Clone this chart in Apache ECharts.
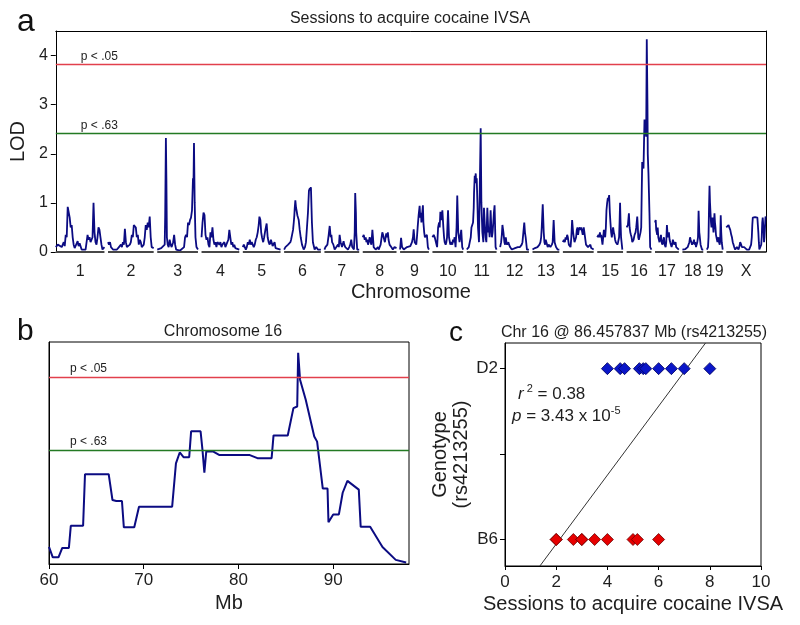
<!DOCTYPE html>
<html><head><meta charset="utf-8">
<script src="https://cdn.jsdelivr.net/npm/echarts@6/dist/echarts.min.js"></script>
<style>html,body{margin:0;padding:0;background:#fff}#c{width:800px;height:625px}</style>
</head><body><div id="c"></div>
<script>
// ---------------- Panel a data ----------------
const chromNames = ['1','2','3','4','5','6','7','8','9','10','11','12','13','14','15','16','17','18','19','X'];
const chromLengths = [49,46,41,38,38,37,35,34,29,31,30,29,27,31,26,25,24,21,16,40];
const chromGap = 3.6;
const lodTicks = [0,1,2,3,4];
const thrSig = 3.82, thrSigLabel = 'p < .05';
const thrSug = 2.41, thrSugLabel = 'p < .63';

const lodChr1 = [[0,0.1],[2,0.15],[4,0.12],[6,0.1],[8,0.2],[9,0.12],[10,0.35],[11,0.3],[12,0.92],[13,0.88],[14,0.7],[15,0.5],[16,0.55],[17,0.3],[18,0.15],[19,0.08],[21,0.1],[22,0.22],[23,0.12],[24,0.18],[25,0.22],[26,0.05],[28,0.04],[30,0.05],[32,0.35],[33,0.25],[34,0.3],[35,0.2],[36,0.25],[37,0.3],[38,1.0],[39,0.4],[40,0.2],[41,0.15],[42,0.3],[43,0.5],[44,0.45],[45,0.3],[46,0.15],[47,0.05],[49,0.1]];
const lodChr2 = [[0,0.2],[1,0.15],[2,0.2],[3,0.1],[4,0.12],[5,0.05],[7,0.08],[9,0.05],[11,0.1],[12,0.08],[13,0.15],[14,0.1],[15,0.2],[16,0.15],[17,0.47],[18,0.2],[19,0.1],[20,0.12],[21,0.08],[22,0.15],[23,0.2],[24,0.35],[25,0.3],[26,0.55],[27,0.52],[28,0.5],[29,0.3],[30,0.35],[31,0.15],[32,0.25],[33,0.2],[34,0.1],[35,0.08],[36,0.15],[37,0.3],[38,0.55],[39,0.45],[40,0.6],[41,0.5],[42,0.72],[43,0.3],[44,0.1],[46,0.08]];
const lodChr3 = [[0,0.05],[2,0.05],[4,0.08],[6,0.1],[7.5,0.15],[8,0.75],[8.7,2.32],[9.2,1.5],[9.7,0.3],[10.5,0.15],[11.5,0.1],[12.5,0.25],[13.5,0.15],[14.5,0.1],[16,0.2],[17,0.35],[18,0.15],[19,0.05],[21,0.05],[23,0.03],[25,0.05],[27,0.1],[28,0.3],[29,0.35],[30,0.3],[31,0.6],[32,0.55],[33,0.65],[34,0.7],[35,0.85],[36,1.5],[36.5,1.4],[37,2.22],[37.7,1.0],[38.5,0.3],[39.5,0.1],[41,0.05]];
const lodChr4 = [[0,0.3],[1,0.6],[2,0.8],[3,0.75],[4,0.35],[5,0.25],[6,0.3],[7,0.15],[8,0.1],[9,0.4],[10,0.3],[11,0.5],[12,0.25],[13,0.15],[14,0.2],[15,0.1],[16,0.2],[17,0.22],[18,0.15],[19,0.2],[20,0.1],[21,0.15],[22,0.12],[23,0.2],[24,0.1],[25,0.15],[26,0.2],[27,0.25],[28,0.45],[29,0.3],[30,0.15],[31,0.2],[32,0.1],[33,0.15],[34,0.08],[35,0.12],[36,0.1],[38,0.05]];
const lodChr5 = [[0,0.1],[1,0.15],[2,0.1],[3,0.05],[4,0.1],[5,0.2],[6,0.15],[7,0.25],[8,0.15],[9,0.2],[10,0.2],[11,0.1],[12,0.15],[13,0.25],[14,0.3],[15,0.4],[16,0.55],[16.7,0.72],[17.7,0.65],[18.5,0.4],[19.3,0.3],[20.5,0.2],[21.5,0.3],[22.7,0.45],[24,0.58],[25,0.3],[26,0.2],[27,0.15],[28.3,0.25],[29,0.2],[30,0.12],[31,0.15],[32,0.2],[33,0.08],[34,0.1],[35,0.05],[38,0.05]];
const lodChr6 = [[0,0.05],[1.3,0.1],[3,0.12],[4,0.15],[5,0.12],[6.3,0.2],[7,0.25],[8,0.35],[9,0.45],[9.7,0.6],[10.3,0.75],[10.7,0.9],[11.3,1.05],[12,0.9],[12.5,0.85],[13.3,0.75],[14,0.7],[14.7,0.65],[15.7,0.45],[16.7,0.3],[18,0.15],[19.7,0.05],[21,0.1],[22,0.2],[23,0.5],[24,0.8],[25,1.25],[26,1.3],[26.5,1.25],[27,1.32],[28,0.6],[29,0.2],[30.7,0.05],[32.3,0.1],[34,0.05],[37,0.05]];
const lodChr7 = [[0,0.05],[1,0.1],[2,0.12],[3,0.15],[4.3,0.35],[5.3,0.53],[6.3,0.3],[7,0.35],[7.7,0.2],[9,0.15],[10.3,0.05],[12,0.1],[13,0.12],[13.7,0.15],[14.5,0.1],[15.3,0.35],[16.3,0.2],[17.7,0.1],[18.5,0.12],[19.3,0.22],[20,0.15],[21,0.1],[22,0.08],[23.7,0.05],[25,0.1],[26,0.15],[27,0.25],[28,0.1],[29.7,0.05],[30.5,0.4],[31,1.2],[31.7,0.8],[32,0.4],[33,0.05],[35,0.05]];
const lodChr8 = [[0,0.3],[1,0.35],[2,0.25],[3,0.3],[3.7,0.2],[4.5,0.25],[5.3,0.15],[6,0.2],[7,0.3],[8,0.2],[8.7,0.15],[9.7,0.45],[10.3,0.3],[11,0.1],[12,0.08],[13,0.05],[14,0.08],[15.3,0.1],[16,0.05],[17,0.1],[18,0.15],[19,0.3],[19.7,0.4],[20.5,0.35],[21,0.3],[22.3,0.2],[23,0.3],[23.7,0.38],[24.5,0.3],[25.3,0.4],[26,0.25],[27,0.15],[28,0.12],[28.7,0.1],[30.3,0.05],[32,0.1],[34,0.08]];
const lodChr9 = [[0,0.05],[1,0.29],[2,0.1],[3,0.08],[3.7,0.05],[5,0.08],[7,0.1],[8.5,0.08],[10.3,0.12],[11,0.15],[12,0.2],[13,0.3],[13.7,0.46],[14.7,0.2],[16.3,0.15],[17,0.3],[17.7,0.5],[18.7,0.75],[19.7,0.94],[20.3,0.7],[21,0.8],[21.5,0.6],[22,0.6],[23,0.95],[23.5,0.6],[24.3,0.4],[25,0.3],[25.7,0.3],[27,0.35],[28,0.1],[29,0.05]];
const lodChr10 = [[0,0.3],[1.3,0.35],[2.3,0.3],[3.3,0.3],[4.7,0.1],[5.2,0.3],[5.7,0.5],[6.7,0.6],[7.3,0.5],[8,0.82],[8.5,0.7],[9,0.65],[10,0.85],[11,0.5],[11.7,0.3],[12.3,0.2],[13.3,0.15],[14,0.2],[14.7,0.3],[15.7,0.85],[16.7,0.3],[18,0.15],[19.3,0.2],[20,0.15],[20.7,0.25],[21.5,0.2],[22.3,0.3],[23.3,0.1],[24.3,0.5],[25,1.15],[26,0.4],[27.3,0.2],[28,0.3],[29,0.45],[30,0.1],[31,0.05]];
const lodChr11 = [[0,0.05],[0.7,0.05],[2,0.1],[3,0.2],[4,0.3],[4.7,0.5],[5.5,0.55],[6.3,0.6],[7,0.9],[7.3,1.2],[8,1.55],[8.5,1.45],[9,1.6],[9.5,1.4],[10,1.5],[10.7,1.0],[11.3,0.5],[12.3,0.2],[13,1.2],[14,2.52],[14.7,1.0],[15.7,0.4],[16.7,0.2],[17.3,0.9],[18.3,0.5],[19,0.3],[19.7,0.2],[20.7,0.9],[21.7,0.4],[22.3,0.5],[23,0.3],[24,0.85],[24.7,0.5],[25.3,0.3],[26,0.4],[26.7,0.6],[27.3,0.8],[28,0.95],[29,0.1],[30,0.05]];
const lodChr12 = [[0,0.1],[1,0.2],[1.7,0.35],[2.3,0.55],[3.3,0.4],[4.3,0.2],[5,0.15],[5.7,0.3],[6.3,0.2],[7,0.15],[7.7,0.12],[8.3,0.2],[9,0.15],[10,0.1],[11,0.12],[11.7,0.05],[13,0.06],[15,0.08],[16.5,0.06],[17.7,0.1],[19,0.08],[20,0.1],[21,0.12],[21.7,0.15],[22.5,0.2],[23.3,0.2],[24.3,0.6],[25,0.4],[25.7,0.3],[27,0.05],[29,0.05]];
const lodChr13 = [[0,0.05],[1.3,0.05],[2.5,0.08],[3.7,0.08],[5,0.1],[6,0.1],[7,0.15],[8,0.2],[8.7,0.3],[9.3,0.5],[10.3,0.97],[11.3,0.4],[12,0.2],[12.7,0.15],[13.3,0.25],[14,0.2],[15.3,0.1],[16.2,0.15],[17,0.15],[18,0.1],[18.7,0.12],[19.5,0.15],[20.3,0.2],[21.3,0.65],[22.3,0.2],[23,0.15],[23.7,0.1],[25.3,0.05],[27,0.05]];
const lodChr14 = [[0,0.2],[1,0.25],[2,0.2],[2.7,0.3],[3.5,0.25],[4.3,0.35],[5,0.3],[6,0.15],[7,0.12],[7.7,0.1],[8.5,0.3],[9.3,0.65],[10.3,0.4],[11,0.3],[11.7,0.2],[12.5,0.25],[13.3,0.3],[14,0.45],[14.7,0.5],[15.3,0.35],[16,0.45],[17,0.5],[17.7,0.45],[18.5,0.5],[19.3,0.48],[20,0.35],[21,0.5],[22,0.35],[23.3,0.15],[24.3,0.12],[25.3,0.1],[26.5,0.12],[27.7,0.15],[28.5,0.08],[29.3,0.1],[31,0.05]];
const lodChr15 = [[0,0.3],[1.3,0.35],[2,0.3],[2.7,0.4],[3.3,0.3],[4,0.35],[5.3,0.15],[6,0.3],[6.7,0.45],[7.3,0.4],[8,0.3],[8.7,0.5],[9.3,0.85],[10,1.0],[10.7,1.1],[11.3,1.05],[12,1.16],[12.7,0.8],[13.3,0.6],[14,0.4],[14.7,0.3],[15.3,0.4],[16,0.5],[16.7,0.4],[17.3,0.35],[18,0.25],[18.7,0.2],[19.5,0.2],[20.3,0.15],[21,0.2],[22,0.3],[22.5,0.6],[23,1.0],[23.5,0.6],[24,0.3],[25.3,0.05],[26,0.05]];
const lodChr16 = [[0,0.5],[1.3,0.55],[2.3,0.79],[3,0.5],[3.7,0.4],[4.3,0.35],[5,0.3],[5.7,0.2],[6.3,0.2],[7,0.25],[8,0.35],[9,0.4],[9.7,0.5],[10.7,0.72],[11.3,0.5],[11.7,0.3],[12.3,0.25],[13,0.25],[14,0.4],[14.7,0.5],[15.2,1.2],[15.7,1.83],[16.3,1.8],[17,1.7],[17.5,2.2],[18,2.7],[18.5,2.72],[19,2.72],[19.7,2.35],[20.3,4.33],[20.7,4.33],[21,3.0],[21.3,2.0],[22,1.6],[22.5,1.2],[23,0.8],[23.7,0.1],[25,0.05]];
const lodChr17 = [[0,0.6],[0.7,0.65],[1.2,0.45],[1.7,0.45],[2.2,0.35],[2.7,0.5],[3.3,0.3],[4,0.3],[4.5,0.2],[5,0.2],[5.5,0.3],[6,0.35],[6.7,0.2],[7.3,0.15],[8,0.2],[9,0.3],[9.7,0.15],[10.7,0.1],[11.3,0.2],[12,0.55],[12.5,0.4],[13,0.3],[13.5,0.35],[14,0.4],[14.7,0.25],[15.3,0.2],[16,0.15],[16.7,0.1],[17.3,0.15],[18,0.25],[18.7,0.2],[19.3,0.15],[20,0.12],[20.7,0.2],[21.3,0.1],[22,0.1],[24,0.05]];
const lodChr18 = [[0,0.05],[2,0.05],[3,0.06],[4.3,0.08],[5.3,0.1],[6.3,0.1],[7,0.2],[7.7,0.3],[8.3,0.25],[9,0.2],[9.7,0.15],[10.3,0.15],[11,0.2],[11.7,0.25],[12.3,0.15],[13,0.2],[13.7,0.1],[14.3,0.15],[15,0.2],[15.7,0.3],[16.3,0.84],[17,0.4],[17.3,0.35],[18.3,0.15],[19.7,0.05],[21,0.05]];
const lodChr19 = [[0,0.05],[1.2,0.1],[1.7,0.3],[2.2,0.9],[2.7,1.35],[3.2,1.0],[3.7,0.8],[4.2,0.6],[4.7,0.5],[5.2,0.65],[5.7,0.7],[6.2,0.55],[6.7,0.4],[7.2,0.6],[7.7,0.79],[8.2,0.6],[8.7,0.5],[9.2,0.35],[9.7,0.3],[10.2,0.25],[10.7,0.2],[11.2,0.25],[11.7,0.3],[12.3,0.2],[13,0.15],[13.5,0.3],[14,0.75],[14.5,0.4],[15,0.2],[16,0.05]];
const lodChrX = [[0,0.5],[1,0.5],[2.3,0.55],[3,0.5],[4,0.45],[5,0.35],[5.7,0.3],[6.5,0.2],[7.3,0.15],[8,0.1],[9,0.05],[10,0.08],[10.7,0.1],[11.5,0.08],[12.3,0.05],[13.3,0.12],[14,0.2],[15,0.15],[15.7,0.1],[16.5,0.1],[17.3,0.08],[18,0.1],[19,0.1],[20,0.08],[20.7,0.05],[21.5,0.06],[22.3,0.08],[23,0.05],[24,0.05],[25,0.15],[25.7,0.3],[26.2,0.55],[26.7,0.7],[27.3,0.72],[28,0.72],[29,0.71],[29.7,0.72],[30.5,0.7],[31.3,0.7],[31.8,0.55],[32.3,0.4],[32.8,0.2],[33.3,0.05],[34,0.05],[34.7,0.05],[35.2,0.15],[35.7,0.3],[36.2,0.6],[36.7,0.7],[37.3,0.7],[37.7,0.4],[38,0.2],[38.5,0.3],[39,0.5],[39.5,0.72],[40,0.7]];
const lodByChrom = [lodChr1,lodChr2,lodChr3,lodChr4,lodChr5,lodChr6,lodChr7,lodChr8,lodChr9,lodChr10,lodChr11,lodChr12,lodChr13,lodChr14,lodChr15,lodChr16,lodChr17,lodChr18,lodChr19,lodChrX];

// ---------------- Panel b data ----------------
const chr16Mb = [60,60.4,61,61.4,62.1,62.3,63.6,63.8,66.3,66.7,67.1,67.7,67.9,69,69.5,73,73.4,73.8,74,74.2,74.8,75,76,76.2,76.4,76.6,77.3,78,81.2,82,83.5,83.7,85.2,85.8,86.2,86.3,86.4,86.5,87.1,88,88.3,88.9,89.4,89.5,90,90.6,91,91.5,92.7,92.9,93.9,95.2,96.6,97.7];
const chr16Lod = [0.53,0.33,0.33,0.51,0.51,0.94,0.94,1.94,1.94,1.44,1.42,1.42,0.91,0.91,1.31,1.31,2.15,2.36,2.36,2.27,2.27,2.77,2.77,2.41,1.97,2.38,2.38,2.31,2.31,2.25,2.25,2.69,2.69,3.22,3.25,4.29,4.29,3.77,3.38,2.67,2.57,1.66,1.66,1.01,1.16,1.16,1.58,1.81,1.64,0.92,0.92,0.53,0.28,0.23];
const mbTicks = [60,70,80,90];

// ---------------- Panel c data ----------------
const genotypeLabels = ['B6','D2'];      // coded 0 and 1
const d2Sessions = [4,4.5,4.67,5.25,5.4,5.5,6,6.5,7,8];
const b6Sessions = [2,2,2.67,3,3,3.5,4,5,5.17,6];
const regSlope = 0.2017, regIntercept = -0.430;
const sessionTicks = [0,2,4,6,8,10];

// ---------------- build ----------------
const FONT = '"Liberation Sans", Arial, Helvetica, sans-serif';
const TXT = '#1e1e1e';
const NAVY = '#0b0b82';
const RED = '#e2404c';
const GREEN = '#237a23';

const chromStarts = [];
let acc = 0;
chromLengths.forEach((len, i) => { chromStarts.push(acc); acc += len + (i < chromLengths.length - 1 ? chromGap : 0); });
const genomeEnd = acc;
const chromMids = chromStarts.map((s, i) => s + chromLengths[i] / 2);
function chromNameAt(v) {
  let best = 0;
  chromMids.forEach((m, i) => { if (Math.abs(m - v) < Math.abs(chromMids[best] - v)) best = i; });
  return chromNames[best];
}

const series = [];
lodByChrom.forEach((arr, i) => {
  series.push({
    type: 'line', xAxisIndex: 0, yAxisIndex: 0, showSymbol: false, silent: true,
    data: arr.map(([p, v]) => [chromStarts[i] + p, v]),
    lineStyle: { color: NAVY, width: 1.8 }, z: 4,
    markLine: {
      silent: true, symbol: 'none', animation: false,
      lineStyle: { color: '#474747', width: 2, type: 'solid' },
      label: { show: false },
      data: [[{ coord: [chromStarts[i], 0] }, { coord: [chromStarts[i] + chromLengths[i], 0] }]]
    }
  });
});

function thresholdSeries(xi, yi, dist) {
  return {
    type: 'line', xAxisIndex: xi, yAxisIndex: yi, data: [], silent: true,
    markLine: {
      silent: true, symbol: 'none', animation: false,
      data: [
        { yAxis: thrSig, lineStyle: { color: RED, width: 1.3, type: 'solid' },
          label: { formatter: thrSigLabel } },
        { yAxis: thrSug, lineStyle: { color: GREEN, width: 1.3, type: 'solid' },
          label: { formatter: thrSugLabel } }
      ],
      label: { show: true, position: 'insideStartTop', distance: dist,
               color: TXT, fontSize: 12, fontFamily: FONT }
    }
  };
}
series.push(thresholdSeries(0, 0, [25, 2]));

// panel b
series.push({
  type: 'line', xAxisIndex: 2, yAxisIndex: 2, showSymbol: false, silent: true,
  data: chr16Mb.map((m, i) => [m, chr16Lod[i]]),
  lineStyle: { color: NAVY, width: 2 }, z: 4
});
series.push(thresholdSeries(2, 2, [21, 2]));

// panel c
const cYMin = -0.155, cYMax = 1.15;
series.push({
  type: 'line', xAxisIndex: 3, yAxisIndex: 3, showSymbol: false, silent: true,
  data: [[(cYMin - regIntercept) / regSlope, cYMin], [(cYMax - regIntercept) / regSlope, cYMax]],
  lineStyle: { color: '#333', width: 1 }, z: 2
});
series.push({
  type: 'scatter', xAxisIndex: 3, yAxisIndex: 3, symbol: 'diamond', symbolSize: [12, 12], silent: true,
  data: d2Sessions.map(x => [x, 1]),
  itemStyle: { color: '#0a16c8', borderColor: '#00005a', borderWidth: 0.8, opacity: 1 }, z: 5
});
series.push({
  type: 'scatter', xAxisIndex: 3, yAxisIndex: 3, symbol: 'diamond', symbolSize: [12, 12], silent: true,
  data: b6Sessions.map(x => [x, 0]),
  itemStyle: { color: '#e60000', borderColor: '#6a0000', borderWidth: 0.8, opacity: 1 }, z: 5
});

const axisTxt = { color: TXT, fontFamily: FONT };
const blackLine = { show: true, onZero: false, lineStyle: { color: '#000', width: 1 } };

const option = {
  animation: false,
  backgroundColor: '#fff',
  textStyle: { fontFamily: FONT },
  grid: [
    { left: 51, top: 31, width: 715, height: 221 },
    { left: 49, top: 342, width: 360, height: 222, show: true, borderColor: '#000', borderWidth: 1 },
    { left: 505, top: 343, width: 256, height: 223, show: true, borderColor: '#000', borderWidth: 1 }
  ],
  xAxis: [
    { gridIndex: 0, type: 'value', min: 0, max: genomeEnd,
      axisLine: { show: false }, axisTick: { show: false }, splitLine: { show: false },
      axisLabel: Object.assign({ customValues: chromMids, formatter: v => chromNameAt(v), fontSize: 16, margin: 12 }, axisTxt),
      name: 'Chromosome', nameLocation: 'middle', nameGap: 30,
      nameTextStyle: Object.assign({ fontSize: 20 }, axisTxt) },
    { gridIndex: 0, type: 'value', position: 'top', min: 0, max: genomeEnd,
      axisLine: blackLine, axisTick: { show: false }, axisLabel: { show: false }, splitLine: { show: false } },
    { gridIndex: 1, type: 'value', min: 60, max: 98, interval: 10,
      axisLine: blackLine, splitLine: { show: false },
      axisTick: { show: true, length: 5, customValues: mbTicks, lineStyle: { color: '#000' } },
      axisLabel: Object.assign({ customValues: mbTicks, fontSize: 17, margin: 8 }, axisTxt),
      name: 'Mb', nameLocation: 'middle', nameGap: 29,
      nameTextStyle: Object.assign({ fontSize: 20 }, axisTxt) },
    { gridIndex: 2, type: 'value', min: 0, max: 10, interval: 2,
      axisLine: blackLine, splitLine: { show: false },
      axisTick: { show: true, length: 4, customValues: sessionTicks, lineStyle: { color: '#000' } },
      axisLabel: Object.assign({ customValues: sessionTicks, fontSize: 17, margin: 8 }, axisTxt),
      name: 'Sessions to acquire cocaine IVSA', nameLocation: 'middle', nameGap: 28,
      nameTextStyle: Object.assign({ fontSize: 20 }, axisTxt) }
  ],
  yAxis: [
    { gridIndex: 0, type: 'value', min: 0, max: 4.5,
      axisLine: blackLine, splitLine: { show: false },
      axisTick: { show: true, length: 5, customValues: lodTicks, lineStyle: { color: '#000' } },
      axisLabel: Object.assign({ customValues: lodTicks, fontSize: 16, margin: 8 }, axisTxt),
      name: 'LOD', nameLocation: 'middle', nameGap: 26,
      nameTextStyle: Object.assign({ fontSize: 20 }, axisTxt) },
    { gridIndex: 0, type: 'value', position: 'right', min: 0, max: 4.5,
      axisLine: blackLine, axisTick: { show: false }, axisLabel: { show: false }, splitLine: { show: false } },
    { gridIndex: 1, type: 'value', min: 0.2, max: 4.5,
      axisLine: blackLine, axisTick: { show: false }, axisLabel: { show: false }, splitLine: { show: false } },
    { gridIndex: 2, type: 'value', min: cYMin, max: cYMax,
      axisLine: blackLine, splitLine: { show: false },
      axisTick: { show: true, length: 5, customValues: [0, 0.5, 1], lineStyle: { color: '#000' } },
      axisLabel: Object.assign({ customValues: [0, 1], fontSize: 17, margin: 7,
        formatter: v => genotypeLabels[Math.round(v)] || '' }, axisTxt),
      name: 'Genotype\n(rs4213255)', nameLocation: 'middle', nameGap: 32,
      nameTextStyle: Object.assign({ fontSize: 20, lineHeight: 21 }, axisTxt) }
  ],
  graphic: [
    { type: 'text', style: { x: 17, y: 22, text: 'a', fontSize: 32, fontFamily: FONT, fill: '#111', verticalAlign: 'middle' } },
    { type: 'text', style: { x: 410, y: 19, text: 'Sessions to acquire cocaine IVSA', fontSize: 16, fontFamily: FONT, fill: TXT, align: 'center', verticalAlign: 'middle' } },
    { type: 'text', style: { x: 17, y: 332, text: 'b', fontSize: 30, fontFamily: FONT, fill: '#111', verticalAlign: 'middle' } },
    { type: 'text', style: { x: 223, y: 332, text: 'Chromosome 16', fontSize: 16, fontFamily: FONT, fill: TXT, align: 'center', verticalAlign: 'middle' } },
    { type: 'text', style: { x: 449, y: 333, text: 'c', fontSize: 28, fontFamily: FONT, fill: '#111', verticalAlign: 'middle' } },
    { type: 'text', style: { x: 634, y: 333, text: 'Chr 16 @ 86.457837 Mb (rs4213255)', fontSize: 16, fontFamily: FONT, fill: TXT, align: 'center', verticalAlign: 'middle' } },
    { type: 'text', style: { x: 518, y: 394, verticalAlign: 'middle',
        text: '{i|r}{s| 2}{n| = 0.38}', fontFamily: FONT, fill: TXT,
        rich: { i: { fontStyle: 'italic', fontSize: 17, fontFamily: FONT, fill: TXT },
                s: { fontSize: 11, fontFamily: FONT, fill: TXT, verticalAlign: 'top', lineHeight: 22 },
                n: { fontSize: 17, fontFamily: FONT, fill: TXT } } } },
    { type: 'text', style: { x: 512, y: 416, verticalAlign: 'middle',
        text: '{i|p}{n| = 3.43 x 10}{s|-5}', fontFamily: FONT, fill: TXT,
        rich: { i: { fontStyle: 'italic', fontSize: 17, fontFamily: FONT, fill: TXT },
                s: { fontSize: 11, fontFamily: FONT, fill: TXT, verticalAlign: 'top', lineHeight: 22 },
                n: { fontSize: 17, fontFamily: FONT, fill: TXT } } } }
  ],
  series: series
};
const chart = echarts.init(document.getElementById('c'));
chart.setOption(option);
</script></body></html>
